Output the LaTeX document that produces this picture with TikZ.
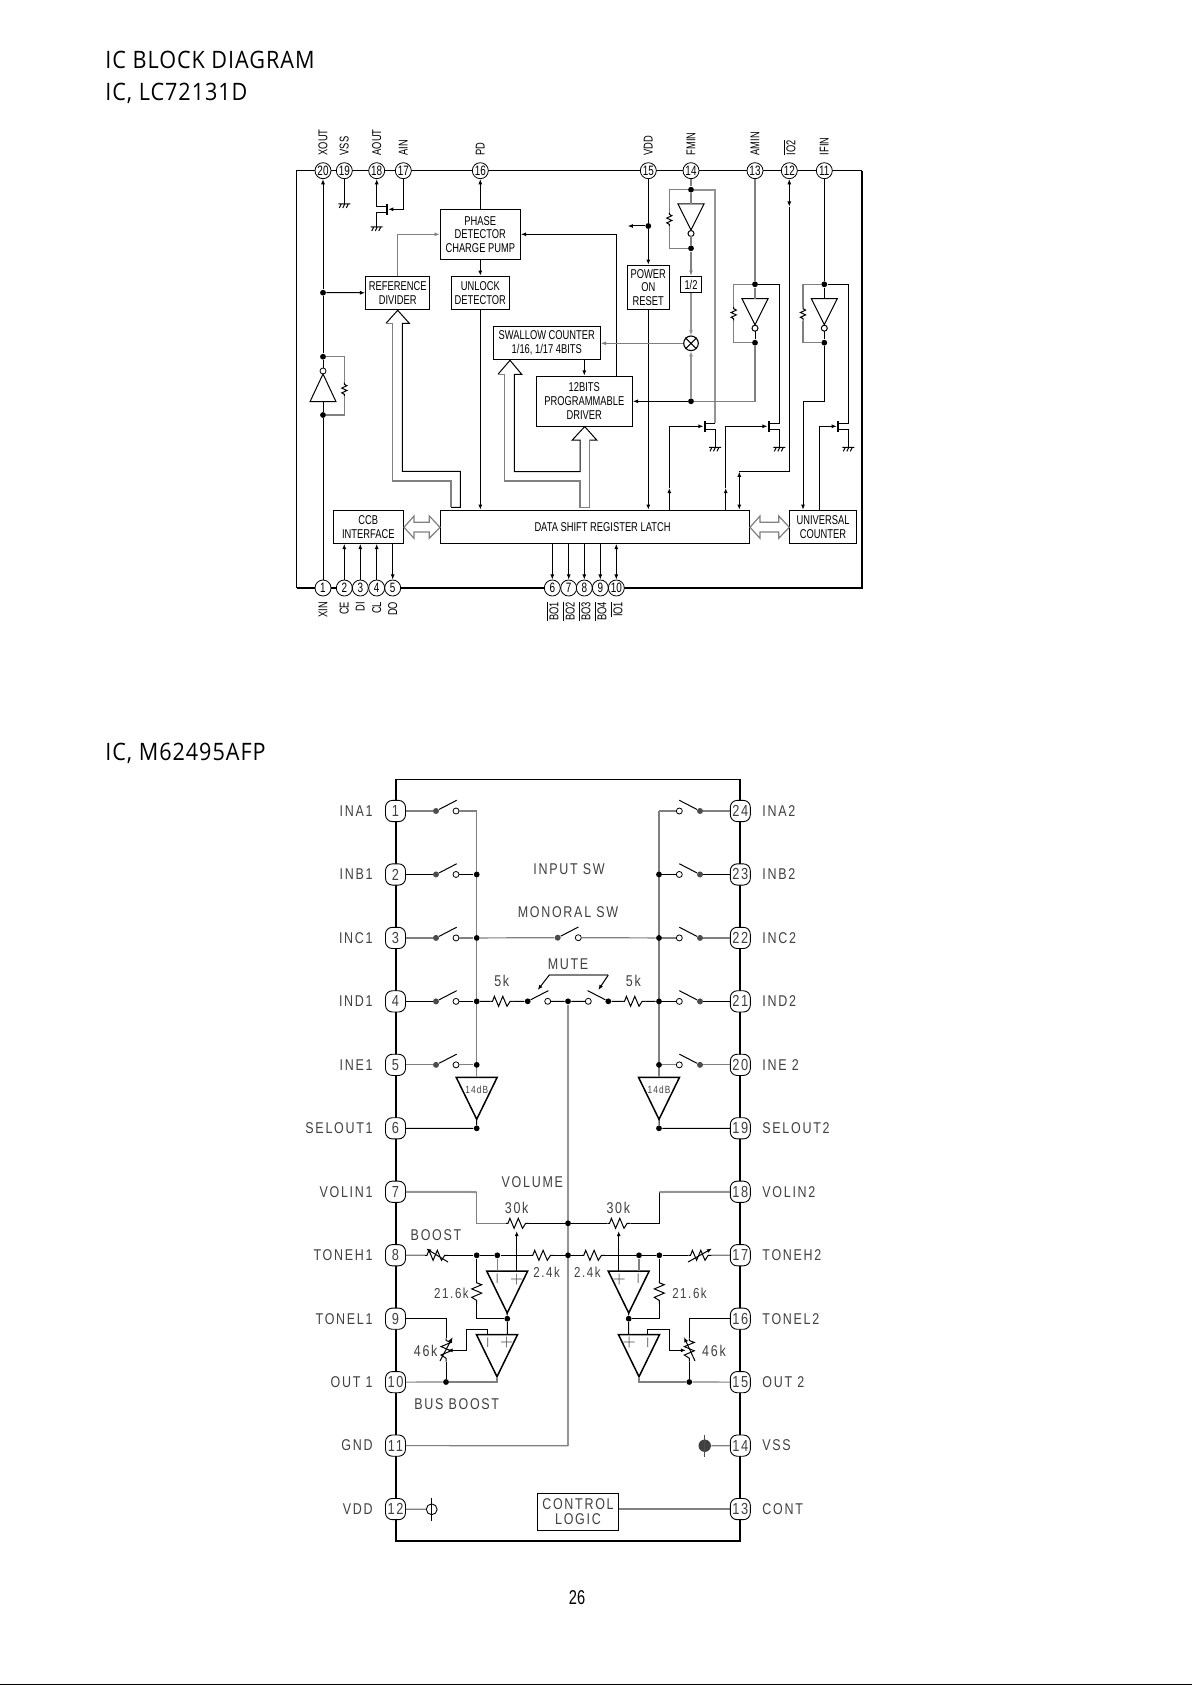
\documentclass[tikz,border=0pt]{standalone}
\usepackage{amsmath}
\usepackage{fontspec}
\usepackage{tikz}
\usetikzlibrary{arrows.meta,calc}
\newfontfamily\titlefont[LetterSpace=4,FakeStretch=0.9]{Open Sans}
\newfontfamily\blockfont[FakeStretch=0.73]{Liberation Sans}
\newfontfamily\cadfont[LetterSpace=11,FakeStretch=0.8]{Liberation Sans}
\newcommand{\ovl}[1]{$\overline{\mbox{#1}}$}
\newcommand{\dblarrow}[4]{\draw[gwire,fill=white] (#1,527.3) -- (#2,516) -- (#2,522.3) -- (#3,522.3) -- (#3,516) -- (#4,527.3) -- (#3,538.3) -- (#3,532) -- (#2,532) -- (#2,538.3) -- cycle;}
\tikzset{
  wire/.style={draw=black,line width=.5pt},
  gwire/.style={draw=black!50,line width=.6pt},
  gthick/.style={draw=black!42,line width=1pt},
  are/.style={-{Latex[length=2.6pt,width=2pt]}},
  arb/.style={{Latex[length=2.6pt,width=2pt]}-},
  arbe/.style={{Latex[length=2.6pt,width=2pt]}-{Latex[length=2.6pt,width=2pt]}},
  pintop/.style={circle,draw,fill=white,line width=.4pt,inner sep=0pt,minimum size=8pt,font=\blockfont\fontsize{6.8}{7}\selectfont},
  pinlab/.style={inner sep=0pt,font=\blockfont\fontsize{6.4}{7}\selectfont},
  blockbox/.style={draw,fill=white,line width=.55pt,inner sep=0pt,align=center,font=\blockfont\fontsize{6.4}{6.85}\selectfont},
  dotf/.style={circle,fill=black,inner sep=0pt,minimum size=2.9pt},
  dotg/.style={circle,fill=black!70,inner sep=0pt,minimum size=3pt},
  dotc/.style={circle,draw,fill=white,line width=.4pt,inner sep=0pt,minimum size=3pt},
  pinb/.style={draw,fill=white,line width=.45pt,rounded corners=3.4pt,minimum width=10pt,minimum height=10.6pt,inner sep=0pt,text=black!75,font=\cadfont\fontsize{8}{9}\selectfont},
  cadlab/.style={inner sep=0pt,text=black!75,font=\cadfont\fontsize{7.8}{7.6}\selectfont},
  ressmall/.pic={
    \draw[wire] (-7,0) -- (-5,0) -- (-3.6,-2.6) -- (-1.2,2.6) -- (1.2,-2.6) -- (3.6,2.6) -- (5,0) -- (7,0);
    \coordinate (-a) at (-7,0); \coordinate (-b) at (7,0);
  },
  resbig/.pic={
    \draw[wire] (-11.7,0) -- (-9.5,0) -- (-7.6,-5) -- (-3.4,5) -- (0.8,-5) -- (5,5) -- (8.2,0) -- (11.7,0);
    \coordinate (-a) at (-11.7,0); \coordinate (-b) at (11.7,0);
  },
  gnd/.pic={
    \draw[wire] (-6,0) -- (6,0) (-3,0) -- (-5,4) (0.5,0) -- (-1.5,4) (4,0) -- (2,4);
    \coordinate (-t) at (0,0);
  },
  fetv/.pic={
    \draw[line width=1.1pt] (0,-5.5) -- (0,5.5);
    \coordinate (-d) at (0,-3); \coordinate (-s) at (0,3.5);
    \coordinate (-g) at (-1.5,0); \coordinate (-e) at (1.5,0);
  },
  invdn/.pic={
    \draw[wire] (-13,0) -- (13,0) -- (0,26) -- cycle;
    \draw[wire,fill=white] (0,29.5) circle[radius=1.5pt];
    \coordinate (-t) at (0,0); \coordinate (-b) at (0,32.5);
  },
  opamp/.pic={
    \draw[line width=.75pt] (-20.5,0) -- (20.5,0) -- (0,42) -- cycle;
    \coordinate (-t) at (0,0); \coordinate (-b) at (0,42);
  }
}
\begin{document}
\begin{tikzpicture}[x=0.5pt,y=-0.5pt]
  \useasboundingbox (0,0) rectangle (1192,1685);
  \fill[white] (0,0) rectangle (1192,1685);
  \draw[line width=1pt] (0,1684.5) -- (1192,1684.5);

  \node[anchor=west,inner sep=0pt,font=\titlefont\fontsize{12}{14}\selectfont] (title1) at (105,59.5) {IC BLOCK DIAGRAM};
  \node[anchor=west,inner sep=0pt,font=\titlefont\fontsize{12}{14}\selectfont] (title2) at (105,93) {IC, LC72131D};
  \node[anchor=west,inner sep=0pt,font=\titlefont\fontsize{12}{14}\selectfont] (title3) at (105,753) {IC, M62495AFP};
  \node[inner sep=0pt,font=\blockfont\fontsize{10}{10}\selectfont] (pageno) at (577,1598) {26};

  % LC72131D
  \draw[line width=.55pt] (296.7,588) -- (296.7,170.7) -- (862.3,170.7);
  \draw[line width=1.1pt] (296.7,588) -- (862.3,588) -- (862.3,170.7);

  \node[blockbox,minimum width=40pt,minimum height=25pt] (phase) at (480.3,234.3) {PHASE\\DETECTOR\\CHARGE PUMP};
  \node[blockbox,minimum width=32pt,minimum height=16.5pt] (refdiv) at (397.7,292.8) {REFERENCE\\DIVIDER};
  \node[blockbox,minimum width=29pt,minimum height=16.5pt] (unlock) at (480.3,292.8) {UNLOCK\\DETECTOR};
  \node[blockbox,minimum width=53.5pt,minimum height=16.5pt] (swallow) at (546.8,342.8) {SWALLOW COUNTER\\1/16, 1/17 4BITS};
  \node[blockbox,minimum width=48pt,minimum height=25pt] (bits) at (584.3,401.2) {12BITS\\PROGRAMMABLE\\DRIVER};
  \node[blockbox,minimum width=21pt,minimum height=22pt] (power) at (648.3,287.3) {POWER\\ON\\RESET};
  \node[blockbox,minimum width=10.7pt,minimum height=8.2pt] (half) at (691,284.5) {1/2};
  \node[blockbox,minimum width=154.7pt,minimum height=16.5pt] (data) at (595,526.8) {\hspace*{7.5pt}DATA SHIFT REGISTER LATCH};
  \node[blockbox,minimum width=35pt,minimum height=16.5pt] (ccb) at (368.3,526.8) {CCB\\INTERFACE};
  \node[blockbox,minimum width=33.7pt,minimum height=16.5pt] (univ) at (823,526.8) {UNIVERSAL\\COUNTER};
  \node[circle,draw,fill=white,line width=.55pt,inner sep=0pt,minimum size=7.3pt] (mix) at (691,343.3) {};
  \draw[line width=.55pt] (mix.45) -- (mix.225) (mix.135) -- (mix.315);

  \foreach \n/\x in {20/323,19/344.3,18/376.7,17/403.3,16/480.3,15/648.3,14/691,13/755,12/789.3,11/824.3}
    \node[pintop] (p\n) at (\x,170.7) {\n};
  \foreach \n/\x in {1/323,2/344.3,3/360.3,4/376.7,5/392.7,6/552.3,7/568.7,8/584.3,9/600.3,10/616.3}
    \node[pintop] (p\n) at (\x,588) {\n};
  \foreach \n/\t in {20/XOUT,19/VSS,18/AOUT,17/AIN,16/PD,15/VDD,14/FMIN,13/AMIN,12/\ovl{IO2},11/IFIN}
    \node[pinlab,rotate=90,anchor=west] (lb\n) at ($(p\n)+(0,-15)$) {\t};
  \foreach \n/\t in {1/XIN,2/CE,3/DI,4/CL,5/DO,6/\ovl{BO1},7/\ovl{BO2},8/\ovl{BO3},9/\ovl{BO4},10/\ovl{IO1}}
    \node[pinlab,rotate=90,anchor=east] (lb\n) at ($(p\n)+(0,13.5)$) {\t};

  % xin, xout
  \node[dotf] (jx1) at (323,292.7) {};
  \node[dotf] (jx2) at (323,356.7) {};
  \node[dotf] (jx3) at (323,415) {};
  \node[dotc] (ix) at (323,371) {};
  \coordinate (ixb) at (323,401.7);
  \draw[wire,arb] (p20) -- (jx1);
  \draw[wire] (jx1) -- (jx2) -- (ix);
  \draw[wire] (310,401.7) -- (336,401.7) -- (323,374) -- cycle;
  \draw[wire] (ixb) -- (jx3) -- (p1);
  \draw[wire,are] (jx1) -- (refdiv);
  \pic[rotate=-90] (rx) at (344.3,389.3) {ressmall};
  \draw[gwire] (jx2) -| (rx-a);
  \draw[gwire] (rx-b) |- (jx3);

  % vss, aout, ain
  \pic (g19) at (344.3,204) {gnd};
  \draw[wire] (p19) -- (g19-t);
  \pic (fa) at (386.7,209.3) {fetv};
  \pic (ga) at (376.7,227) {gnd};
  \draw[wire,arb] (p18) |- (fa-d);
  \draw[wire] (fa-s) -| (ga-t);
  \draw[wire,are] (p17) |- (fa-e);

  % phase detector
  \coordinate (cpd) at (616.3,234.3);
  \draw[wire,are] (phase) -- (p16);
  \draw[gwire,are] (refdiv) |- (phase);
  \draw[wire,are] (bits.north -| cpd) |- (phase);
  \draw[wire,are] (phase) -- (unlock);
  \draw[wire,are] (unlock) -- (unlock |- data.north);
  \draw[wire,are] (swallow.south -| bits.north) -- (bits);

  % power on reset
  \node[dotf] (j15) at (648.3,226) {};
  \coordinate (c15) at (627.7,226);
  \draw[wire] (p15) -- (j15);
  \draw[wire,are] (j15) -- (power);
  \draw[wire,are] (j15) -- (c15);
  \draw[wire,are] (power) -- (power |- data.north);

  % fmin
  \node[dotf] (j14a) at (691,189.7) {};
  \node[dotf] (j14b) at (691,248.3) {};
  \node[dotf] (jm) at (691,401.3) {};
  \pic (i14) at (691,204) {invdn};
  \pic[rotate=-90] (r14) at (669.3,219.3) {ressmall};
  \coordinate (rail14) at (715,423.3);
  \coordinate (t14) at (669.3,488);
  \pic (f14) at (705,426.3) {fetv};
  \pic (g14) at (715,447.3) {gnd};
  \draw[gwire] (p14) -- (j14a) -- (i14-t);
  \draw[gwire] (i14-b) -- (j14b);
  \draw[gwire,are] (j14b) -- (half);
  \draw[gwire] (j14a) -| (r14-a);
  \draw[gwire] (r14-b) |- (j14b);
  \draw[gthick] (j14a) -| (rail14);
  \draw[wire] (rail14) -- (f14-d);
  \draw[wire] (f14-s) -| (g14-t);
  \draw[wire,are] (data.north -| t14) -- (t14);
  \draw[wire,are] (t14) |- (f14-g);
  \draw[gthick,are] (half) -- (mix);
  \draw[gthick,are] (jm) -- (mix);
  \draw[gwire,are] (mix) -- (mix -| swallow.east);
  \draw[wire,are] (jm) -- (jm -| bits.east);

  % amin
  \node[dotf] (j13a) at (755,284.3) {};
  \node[dotf] (j13b) at (755,342.7) {};
  \pic (i13) at (755,298.7) {invdn};
  \pic[rotate=-90] (r13) at (733.7,313.7) {ressmall};
  \coordinate (rail13) at (779.3,423.3);
  \coordinate (t13) at (725.7,488);
  \pic (f13) at (769,426.3) {fetv};
  \pic (g13) at (779.3,447.3) {gnd};
  \draw[gwire] (p13) -- (j13a) -- (i13-t);
  \draw[wire] (i13-b) -- (j13b);
  \draw[gwire] (j13b) |- (jm);
  \draw[gwire] (j13a) -| (r13-a);
  \draw[gwire] (r13-b) |- (j13b);
  \draw[wire] (j13a) -| (rail13) -- (f13-d);
  \draw[wire] (f13-s) -| (g13-t);
  \draw[wire,are] (data.north -| t13) -- (t13);
  \draw[wire,are] (t13) |- (f13-g);

  % io2
  \coordinate (c12a) at (789.3,206.7);
  \coordinate (c12b) at (789.3,471.7);
  \coordinate (c12c) at (739.3,471.7);
  \draw[wire,arbe] (p12) -- (c12a);
  \draw[wire] (c12a) -- (c12b) -- (c12c);
  \draw[wire,arbe] (c12c) -- (c12c |- data.north);

  % ifin
  \node[dotf] (j11a) at (824.3,284.3) {};
  \node[dotf] (j11b) at (824.3,342.7) {};
  \pic (i11) at (824.3,298.7) {invdn};
  \pic[rotate=-90] (r11) at (803,313.7) {ressmall};
  \coordinate (rail11) at (848.3,423.3);
  \coordinate (c11a) at (824.3,401.3);
  \coordinate (c11b) at (803,401.3);
  \coordinate (c11c) at (819.3,426.3);
  \pic (f11) at (838.3,426.3) {fetv};
  \pic (g11) at (848.3,447.3) {gnd};
  \draw[wire] (p11) -- (j11a) -- (i11-t);
  \draw[wire] (i11-b) -- (j11b) -- (c11a) -- (c11b);
  \draw[wire,are] (c11b) -- (c11b |- univ.north);
  \draw[gwire] (j11a) -| (r11-a);
  \draw[gwire] (r11-b) |- (j11b);
  \draw[wire] (j11a) -| (rail11) -- (f11-d);
  \draw[wire] (f11-s) -| (g11-t);
  \draw[wire,are] (univ.north -| c11c) |- (f11-g);

  % buses
  \draw[wire] (386,323.3) -- (397.7,310.3) -- (409.3,323.3) -- (402.3,323.3) |- (460.3,471.3) -- (460.3,507.3) -- (451,507.3);
  \draw[gwire] (451,507.3) |- (392.7,481) -- (392.7,323.3) -- (386,323.3);
  \draw[wire] (498,374.3) -- (510,360.3) -- (521.7,374.3) -- (514.3,374.3) |- (580,471.7) -- (580,440) -- (572.3,440) -- (584.7,426.6) -- (596.7,440) -- (589.3,440);
  \draw[gwire] (589.3,440) -- (589.3,507.3) -- (580,507.3) |- (504.6,481) -- (504.6,374.3) -- (498,374.3);
  \dblarrow{404}{414}{429.3}{440}
  \dblarrow{750}{760}{778.7}{789.3}
  \foreach \n in {2,3,4}
    \draw[wire,are] (p\n) -- (p\n |- ccb.south);
  \draw[wire,are] (p5 |- ccb.south) -- (p5);
  \foreach \n in {6,7,8,9}
    \draw[wire,are] (p\n |- data.south) -- (p\n);
  \draw[wire,arbe] (p10 |- data.south) -- (p10);

  % M62495AFP
  \draw[line width=.8pt] (396,779.3) rectangle (740,1540.7);
  \foreach \n/\t in {1/INA1,2/INB1,3/INC1,4/IND1,5/INE1,6/SELOUT1,7/VOLIN1,8/TONEH1,9/TONEL1,10/OUT 1,11/GND,12/VDD} {
    \node[pinb] (pl\n) at (395.5,{811+(\n-1)*63.46}) {\n};
    \node[cadlab,anchor=east] (tl\n) at (373,{811+(\n-1)*63.46}) {\t};
  }
  \foreach \n/\t in {24/INA2,23/INB2,22/INC2,21/IND2,20/INE 2,19/SELOUT2,18/VOLIN2,17/TONEH2,16/TONEL2,15/OUT 2,14/VSS,13/CONT} {
    \node[pinb] (pr\n) at (740.3,{811+(24-\n)*63.46}) {\n};
    \node[cadlab,anchor=west] (tr\n) at (762,{811+(24-\n)*63.46}) {\t};
  }

  % input switches
  \foreach \n/\m/\c in {1/24/gwire,2/23/wire,3/22/gwire,4/21/wire,5/20/gwire} {
    \pgfmathsetmacro\yy{811+(\n-1)*63.46}
    \node[dotg] (sa\n) at (436,\yy) {};
    \node[dotc] (sb\n) at (456,\yy) {};
    \node[dotg] (sc\n) at (700,\yy) {};
    \node[dotc] (sd\n) at (679.3,\yy) {};
    \draw[\c] (pl\n) -- (sa\n);
    \draw[wire] (sa\n) -- ++(20.7,-10.7);
    \draw[\c] (pr\m) -- (sc\n);
    \draw[wire] (sc\n) -- ++(-20.7,-10.7);
  }
  \coordinate (jl1) at (476.7,811);
  \coordinate (jr1) at (659,811);
  \pic (ampl) at (476.7,1077.3) {opamp};
  \pic (ampr) at (659,1077.3) {opamp};
  \draw[gwire] (jl1) -- (ampl-t);
  \draw[gwire] (jr1) -- (ampr-t);
  \foreach \n in {2,3,4,5} {
    \node[dotf] (jl\n) at (476.7,{811+(\n-1)*63.46}) {};
    \node[dotf] (jr\n) at (659,{811+(\n-1)*63.46}) {};
  }
  \foreach \n/\c in {1/gwire,2/wire,3/gwire,4/wire,5/gwire} {
    \draw[\c] (sb\n) -- (jl\n);
    \draw[\c] (sd\n) -- (jr\n);
  }
  \node[cadlab,font=\cadfont\fontsize{5.2}{6}\selectfont] (dbl) at (476.7,1089.5) {14dB};
  \node[cadlab,font=\cadfont\fontsize{5.2}{6}\selectfont] (dbr) at (659,1089.5) {14dB};
  \node[dotf] (jl6) at (476.7,1128.3) {};
  \node[dotf] (jr6) at (659,1128.3) {};
  \draw[wire] (ampl-b) -- (jl6) -- (pl6);
  \draw[wire] (ampr-b) -- (jr6) -- (pr19);

  \node[cadlab] (insw) at (569,869.5) {INPUT  SW};
  \node[cadlab] (mosw) at (568,912.3) {MONORAL  SW};
  \node[dotg] (sm1) at (557.7,937.7) {};
  \node[dotc] (sm2) at (578.3,937.7) {};
  \draw[gwire] (jl3) -- (sm1);
  \draw[wire] (sm1) -- ++(20.7,-10.7);
  \draw[gwire] (sm2) -- (jr3);

  % mute
  \pic (r5l) at (502,1001.3) {resbig};
  \pic (r5r) at (634,1001.3) {resbig};
  \node[dotf] (m1) at (527.7,1001.3) {};
  \node[dotc] (m2) at (547.7,1001.3) {};
  \node[dotf] (mc) at (568,1001.3) {};
  \node[dotc] (m3) at (588.3,1001.3) {};
  \node[dotf] (m4) at (608.3,1001.3) {};
  \draw[wire] (jl4) -- (r5l-a) (r5l-b) -- (m1) (m2) -- (mc) -- (m3) (m4) -- (r5r-a) (r5r-b) -- (jr4);
  \draw[wire] (m1) -- ++(20.7,-10.7);
  \draw[wire] (m4) -- ++(-20.7,-10.7);
  \coordinate (ma) at (549.3,975);
  \coordinate (mb) at (608.3,975);
  \draw[gwire] (ma) -- (mb);
  \draw[wire,are] (ma) -- (537.7,990);
  \draw[wire,are] (mb) -- (598.3,990);
  \node[cadlab] (mutet) at (568,964.5) {MUTE};
  \node[cadlab] (k5l) at (501.7,981) {5k};
  \node[cadlab] (k5r) at (633.3,981) {5k};

  % gnd rail
  \coordinate (cg) at (568,1445.7);
  \draw[gthick] (mc) -- (cg);
  \draw[gwire] (pl11) -- (cg);
  \node[dotf] (vc) at (568,1223.3) {};
  \node[dotf] (tc) at (568,1255.3) {};

  % volume
  \node[cadlab] (volt) at (532.3,1182) {VOLUME};
  \pic (rvl) at (517.5,1223.3) {resbig};
  \pic (rvr) at (619,1223.3) {resbig};
  \coordinate (cv1) at (476.7,1192);
  \coordinate (cv2) at (659.3,1192);
  \draw[gthick] (pl7) -- (cv1);
  \draw[gwire] (cv1) |- (rvl-a);
  \draw[wire] (rvl-b) -- (vc) -- (rvr-a);
  \draw[wire] (rvr-b) -| (cv2);
  \draw[gthick] (cv2) -- (pr18);
  \node[cadlab] (k30l) at (516.7,1208) {30k};
  \node[cadlab] (k30r) at (618.3,1208) {30k};

  % tone
  \pic (rbl) at (436.5,1255.3) {resbig};
  \pic (rbr) at (700,1255.3) {resbig};
  \draw[wire,are] (448,1262) -- (426,1248.5);
  \draw[wire,are] (688,1262) -- (712,1248.5);
  \node[cadlab] (boostt) at (436,1234.7) {BOOST};
  \node[dotf] (t1) at (476.7,1255.3) {};
  \node[dotf] (t2) at (497.3,1255.3) {};
  \node[dotf] (t3) at (639,1255.3) {};
  \node[dotf] (t4) at (659.3,1255.3) {};
  \pic (r24l) at (542.3,1255.3) {resbig};
  \pic (r24r) at (593.3,1255.3) {resbig};
  \draw[gwire] (pl8) -- (rbl-a);
  \draw[wire] (rbl-b) -- (t1) -- (t2) -- (r24l-a);
  \draw[wire] (r24l-b) -- (tc) -- (r24r-a);
  \draw[wire] (r24r-b) -- (t3) -- (t4) -- (rbr-a);
  \draw[gwire] (rbr-b) -- (pr17);
  \node[cadlab,font=\cadfont\fontsize{7.2}{8}\selectfont] (k24l) at (546.7,1272.5) {2.4k};
  \node[cadlab,font=\cadfont\fontsize{7.2}{8}\selectfont] (k24r) at (587.3,1272.5) {2.4k};

  \pic (op1) at (507.2,1271) {opamp};
  \pic (op2) at (628.7,1271) {opamp};
  \pic (op3) at (497,1334.7) {opamp};
  \pic (op4) at (639,1334.7) {opamp};
  \node[dotf] (o1) at (507.3,1318.7) {};
  \node[dotf] (o2) at (628.7,1318.7) {};
  \draw[wire] (op1-b) -- (o1) (o1) -- ($(op3-t)+(10.3,0)$);
  \draw[wire] (op2-b) -- (o2) (o2) -- ($(op4-t)+(-10.3,0)$);
  \draw[gwire] (t2) -- (497.3,1271);
  \draw[gwire] (t3) -- (639,1271);
  \foreach \x/\y/\k in {497.3/1279/a,487.7/1342.5/b,638.3/1279/c,647.7/1342.5/d}
    \node[inner sep=0pt,text=black!60,font=\blockfont\fontsize{7}{8}\selectfont] (sign\k) at (\x,\y) {I};
  \foreach \x/\y/\k in {516.7/1279/a,506.7/1342.5/b,619.3/1279/c,629.3/1342.5/d}
    \node[inner sep=0pt,text=black!70,font=\fontsize{8}{8}\selectfont] (plus\k) at (\x,\y) {+};
  \draw[wire,are] (516.7,1271) -- (516.7,1231);
  \draw[wire,are] (618.7,1271) -- (618.7,1231);

  \pic[rotate=-90] (rfl) at (476.7,1292.3) {resbig};
  \pic[rotate=-90] (rfr) at (659.3,1292.3) {resbig};
  \draw[wire] (t1) -- (rfl-a);
  \draw[wire] (rfl-b) |- (o1);
  \draw[wire] (t4) -- (rfr-a);
  \draw[wire] (rfr-b) |- (o2);
  \node[cadlab,font=\cadfont\fontsize{7.2}{8}\selectfont] (k21l) at (451.5,1293) {21.6k};
  \node[cadlab,font=\cadfont\fontsize{7.2}{8}\selectfont] (k21r) at (689.5,1293) {21.6k};

  % bus boost
  \node[dotf] (b1) at (446,1382) {};
  \node[dotf] (b2) at (689.3,1382) {};
  \pic[rotate=-90] (rgl) at (446,1350) {resbig};
  \pic[rotate=-90] (rgr) at (689.3,1350) {resbig};
  \draw[wire] (pl9) -| (rgl-a);
  \draw[wire] (rgl-b) -- (b1);
  \draw[wire] (pr16) -| (rgr-a);
  \draw[wire] (rgr-b) -- (b2);
  \draw[wire,are] (440,1361) -- (452.7,1337);
  \draw[wire,are] (695,1361) -- (684,1337);
  \draw[gwire] (pl10) -- (b1);
  \draw[gwire] (b1) -| (op3-b);
  \draw[gwire] (pr15) -- (b2);
  \draw[gwire] (b2) -| (op4-b);
  \draw[wire] (487.7,1334.7) |- (466.7,1329.3);
  \draw[wire,are] (466.7,1329.3) |- (447.5,1350.3);
  \draw[wire] (647.7,1334.7) |- (669.3,1329.3);
  \draw[wire,are] (669.3,1329.3) |- (686,1350.3);
  \node[cadlab] (k46l) at (425.7,1351.3) {46k};
  \node[cadlab] (k46r) at (714,1351.3) {46k};
  \node[cadlab] (bbt) at (456.7,1404) {BUS  BOOST};

  % supply
  \node[circle,draw,line width=.45pt,inner sep=0pt,minimum size=5.4pt] (vdd) at (431.7,1509.3) {};
  \draw[gwire] (vdd) -- (pl12);
  \draw[line width=.4pt] (431.7,1498) -- (431.7,1520.5);
  \node[circle,fill=black!75,inner sep=0pt,minimum size=6.2pt] (vss) at (704.7,1445.7) {};
  \draw[gwire] (vss) -- (pr14);
  \draw[line width=.4pt,draw=black!70] (704.7,1434.5) -- (704.7,1457);
  \node[draw,fill=white,line width=.5pt,inner sep=0pt,minimum width=40.7pt,minimum height=18.7pt,align=center,cadlab] (ctrl) at (578,1512) {CONTROL\\LOGIC};
  \draw[gwire] (ctrl.east |- pr13) -- (pr13);
\end{tikzpicture}
\end{document}
